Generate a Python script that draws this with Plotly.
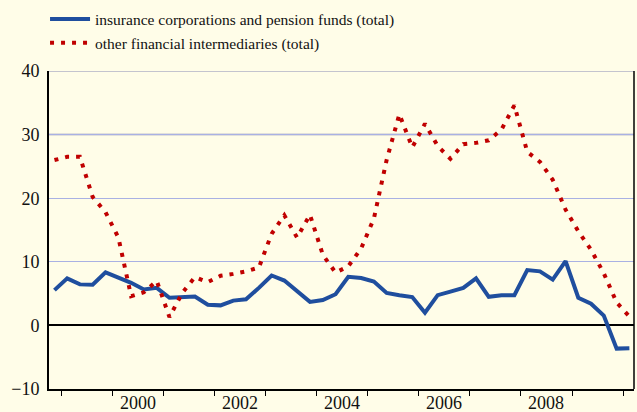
import pandas as pd
import plotly.graph_objects as go

# ---- data (quarterly, 1998Q4 .. 2010Q1), annual growth rates in % ----
quarters = pd.period_range("1998Q4", "2010Q1", freq="Q")
insurance_pension = [5.55, 7.4, 6.45, 6.4, 8.35, 7.5, 6.7, 5.65, 5.9, 4.35,
                     4.5, 4.55, 3.25, 3.15, 3.9, 4.1, 5.9, 7.85, 7.05, 5.4,
                     3.7, 4.0, 4.9, 7.65, 7.45, 6.9, 5.1, 4.75, 4.45, 2.0,
                     4.75, 5.3, 5.9, 7.4, 4.5, 4.75, 4.75, 8.7, 8.5, 7.2,
                     10.1, 4.35, 3.4, 1.55, -3.65, -3.6]
other_fin_interm = [26.0, 26.5, 26.5, 20.2, 17.8, 13.8, 4.6, 5.2, 7.0, 1.3,
                    5.1, 7.6, 6.8, 7.8, 8.1, 8.5, 9.1, 14.4, 17.3, 13.8,
                    17.4, 11.1, 8.3, 9.3, 12.1, 16.8, 26.0, 33.2, 28.0, 31.7,
                    28.2, 26.2, 28.5, 28.7, 29.1, 30.8, 34.6, 27.3, 25.7, 22.9,
                    18.2, 14.8, 11.9, 8.2, 3.6, 1.4]
series_names = ["insurance corporations and pension funds (total)",
                "other financial intermediaries (total)"]
year_ticks = list(range(1999, 2011))
year_labels = [2000, 2002, 2004, 2006, 2008]
y_ticks = [-10, 0, 10, 20, 30, 40]

# mid-quarter dates
dates = [(q.start_time + (q.end_time - q.start_time) / 2).strftime("%Y-%m-%d") for q in quarters]

BG = "#FFFDE8"
FONT = "Liberation Serif, DejaVu Serif, serif"
TXT = "#111111"
x_range = ["1998-10-07", "2010-03-19"]

fig = go.Figure()
fig.add_trace(go.Scatter(x=dates, y=insurance_pension, mode="lines",
                         name=series_names[0], legend="legend",
                         line=dict(color="#1F4E9E", width=4)))
fig.add_trace(go.Scatter(x=dates, y=other_fin_interm, mode="lines",
                         name=series_names[1], legend="legend2",
                         line=dict(color="#C00000", width=4, dash="4px,7px")))

legend_common = dict(xref="container", yref="container", x=0.0707,
                     xanchor="left", yanchor="middle", bgcolor="rgba(0,0,0,0)",
                     itemwidth=40,
                     font=dict(family=FONT, size=15.5, color=TXT))

fig.update_layout(
    width=637, height=412,
    margin=dict(l=49, r=3, t=71, b=23, autoexpand=False),
    paper_bgcolor=BG, plot_bgcolor=BG,
    font=dict(family=FONT, size=18, color=TXT),
    legend=dict(y=0.953, **legend_common),
    legend2=dict(y=0.895, **legend_common),
    xaxis=dict(type="date", range=x_range, tickmode="array",
               tickvals=[f"{y}-01-01" for y in year_ticks],
               ticktext=["" for _ in year_ticks],
               ticks="outside", ticklen=5, tickwidth=1, tickcolor="black",
               showgrid=False, zeroline=False,
               showline=True, linecolor="black", linewidth=2),
    yaxis=dict(range=[-10, 40], tickmode="array", tickvals=y_ticks,
               ticks="", ticklabelstandoff=4,
               tickfont=dict(family=FONT, size=18, color=TXT),
               showgrid=True, gridcolor="#A9B1E3", gridwidth=1,
               zeroline=True, zerolinecolor="black", zerolinewidth=1.6,
               showline=True, linecolor="black", linewidth=2),
    showlegend=True,
)

# year labels centred between the yearly ticks
for yr in year_labels:
    fig.add_annotation(x=f"{yr}-07-01", xref="x", y=0, yref="paper",
                       text=str(yr), showarrow=False, yanchor="top",
                       yshift=-2, font=dict(family=FONT, size=18, color=TXT))

# grey upper gridlines and right frame edge
for yv in y_ticks[-2:]:
    fig.add_shape(type="line", xref="paper", yref="y", x0=0, x1=1, y0=yv, y1=yv,
                  line=dict(color="#C4C4CE", width=2), layer="between")
fig.add_shape(type="line", xref="paper", yref="paper", x0=1, x1=1, y0=0, y1=1,
              line=dict(color="black", width=1.5))

fig.write_html("out.html",
               config={"displayModeBar": False},
               post_script="document.body.style.margin='0';"
                           "document.body.style.background='" + BG + "';")
